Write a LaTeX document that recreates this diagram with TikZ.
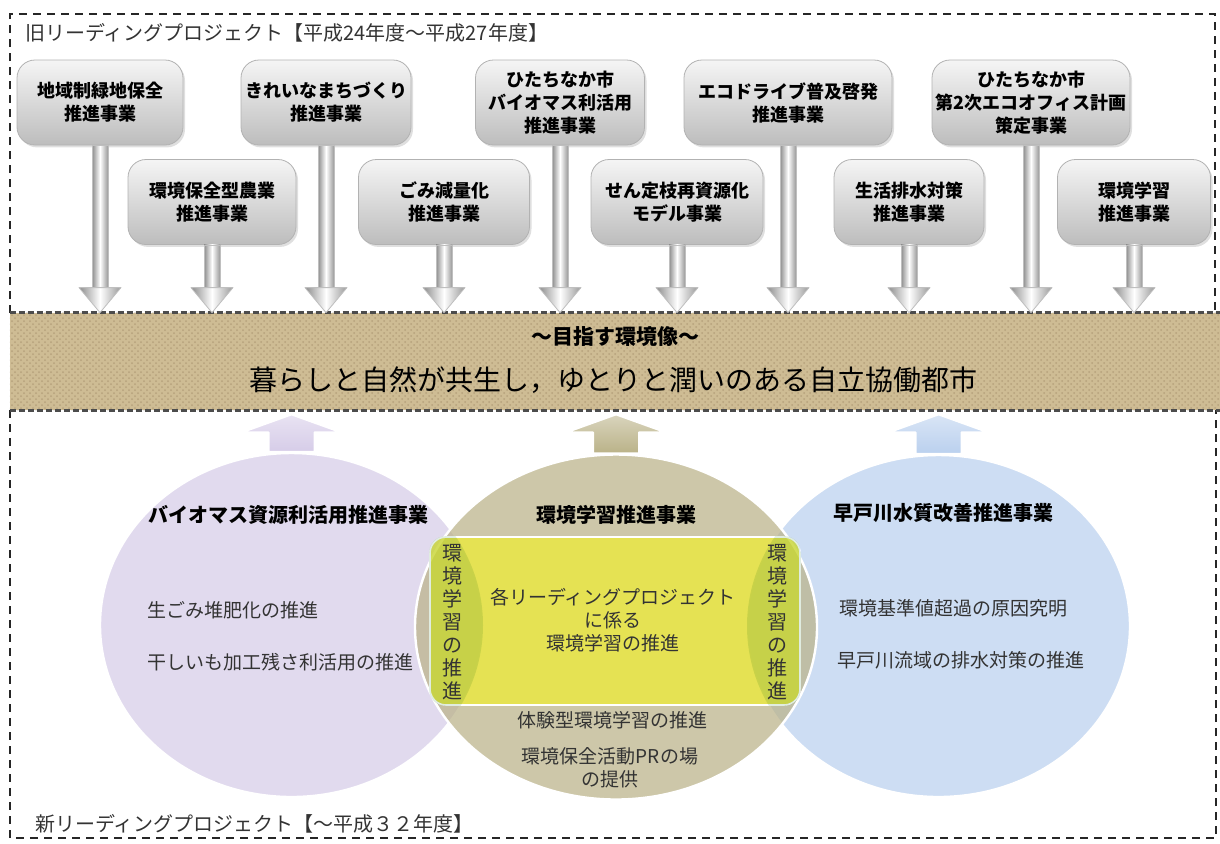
\documentclass[tikz,border=0pt]{standalone}
\usepackage{fontspec}
\setmainfont{Noto Sans CJK JP}
\usetikzlibrary{calc,shadows,shapes.geometric,patterns}
\colorlet{boxedge}{black!30}
\colorlet{inktext}{black!80}
\definecolor{lavender}{RGB}{214,204,232}
\definecolor{khaki}{RGB}{186,178,136}
\definecolor{skyblue}{RGB}{186,208,238}
\definecolor{hemp}{RGB}{206,188,148}
\definecolor{lemon}{RGB}{236,234,60}
\tikzset{
  project/.style={rounded corners=9pt,draw=boxedge,top color=black!4,bottom color=black!26,
    drop shadow={opacity=.25,shadow xshift=1pt,shadow yshift=-1.2pt},
    minimum height=42.5pt,inner sep=1pt,align=center,
    font=\bfseries\fontsize{9}{11.5}\selectfont},
  frame/.style={black!85,line width=.8pt,dash pattern=on 4pt off 3pt},
  bandedge/.style={black!70,line width=1.6pt,dash pattern=on 3pt off 1.5pt},
  theme/.style={ellipse,inner sep=0pt,fill opacity=.72,draw=white,line width=1.2pt},
  head/.style={font=\bfseries\fontsize{10}{12}\selectfont},
  body/.style={font=\fontsize{9.5}{11.5}\selectfont,text=inktext},
  vtext/.style={font=\fontsize{10}{11.5}\selectfont,align=center,text=inktext}
}
% grey arrow from an old project down to the band
\def\leadarrow#1{
  \coordinate (s) at (#1.south);
  \coordinate (t) at (#1.south |- band.north);
  \shade[left color=black!45,right color=black!40,middle color=white,draw=black!25]
    ($(s)+(-8,0)$) rectangle ($(t)+(8,-25)$);
  \shade[left color=black!45,right color=black!40,middle color=white,draw=black!25,line join=round]
    ($(t)+(-21,-25)$) -- (t) -- ($(t)+(21,-25)$) -- cycle;
}
% wide arrow from a new project up to the band
\def\goalarrow#1#2{
  \coordinate (s) at (#1.north);
  \coordinate (t) at (#1.north |- band.south);
  \shade[top color=#2!55,bottom color=#2,draw=white,line width=1pt,line join=round]
    (s) ++ (-23,0) -- ($(t)+(-23,22)$) -- ($(t)+(-50,22)$) -- ($(t)+(0,4)$)
    -- ($(t)+(50,22)$) -- ($(t)+(23,22)$) -- ($(s)+(23,0)$) -- cycle;
}
% darker lens where a side circle runs under the yellow core
\def\lens#1{
  \begin{scope}
    \clip[rounded corners=8pt] (core.south west) rectangle (core.north east);
    \clip (#1.center) ellipse [x radius=191.5,y radius=172];
    \fill[black!60!green,opacity=.12] (core.south west) rectangle (core.north east);
  \end{scope}
}

\begin{document}
\begin{tikzpicture}[x=.5pt,y=-.5pt]
  \useasboundingbox (0,0) rectangle (1220,843);

  % FRAMES
  \draw[frame] (10,313) |- (1215,14) -- (1215,313);
  \draw[frame] (10,410) |- (1216,838) -- (1216,410);
  \node[anchor=west,font=\fontsize{10}{12}\selectfont,text=inktext] (oldtitle) at (18,33)
    {旧リーディングプロジェクト【平成24年度～平成27年度】};
  \node[anchor=west,font=\fontsize{10}{12}\selectfont,text=inktext] (newtitle) at (28,824)
    {新リーディングプロジェクト【～平成３２年度】};

  % BAND
  \node[minimum width=605pt,minimum height=48.5pt,inner sep=0pt,fill=hemp] (band) at (615,361.5) {};
  \fill[pattern=crosshatch dots,pattern color=brown!45!black,opacity=.2]
    (band.south west) rectangle (band.north east);
  \draw[bandedge] (band.north west) -- (band.north east);
  \draw[bandedge] (band.south west) -- (band.south east);
  \node[font=\bfseries\fontsize{10.5}{12}\selectfont] (motto) at (615,337) {～目指す環境像～};
  \node[font=\fontsize{14}{16}\selectfont] (vision) at (613,380)
    {暮らしと自然が共生し，ゆとりと潤いのある自立協働都市};

  % OLD PROJECTS
  \node[project,minimum width=83pt]   (p1) at (100,102.5) {地域制緑地保全\\推進事業};
  \node[project,minimum width=85pt]   (p2) at (326,102.5) {きれいなまちづくり\\推進事業};
  \node[project,minimum width=84.5pt] (p3) at (560,102.5) {ひたちなか市\\バイオマス利活用\\推進事業};
  \node[project,minimum width=104pt]  (p4) at (788,102.5) {エコドライブ普及啓発\\推進事業};
  \node[project,minimum width=99pt]   (p5) at (1031,102.5) {ひたちなか市\\第2次エコオフィス計画\\策定事業};
  \node[project,minimum width=84pt]   (q1) at (212,202) {環境保全型農業\\推進事業};
  \node[project,minimum width=85.5pt] (q2) at (444,202) {ごみ減量化\\推進事業};
  \node[project,minimum width=86pt]   (q3) at (677,202) {せん定枝再資源化\\モデル事業};
  \node[project,minimum width=75pt]   (q4) at (909,202) {生活排水対策\\推進事業};
  \node[project,minimum width=76.5pt] (q5) at (1134,202) {環境学習\\推進事業};
  \leadarrow{p1} \leadarrow{p2} \leadarrow{p3} \leadarrow{p4} \leadarrow{p5}
  \leadarrow{q1} \leadarrow{q2} \leadarrow{q3} \leadarrow{q4} \leadarrow{q5}

  % NEW PROJECTS
  \node[theme,fill=lavender,minimum width=191.5pt,minimum height=172pt] (bio) at (291.5,625) {};
  \node[theme,fill=skyblue,minimum width=191.5pt,minimum height=171pt]  (riv) at (938.5,626) {};
  \node[theme,fill=khaki,minimum width=201pt,minimum height=172.5pt]    (edu) at (616,627) {};
  \goalarrow{bio}{lavender}
  \goalarrow{edu}{khaki}
  \goalarrow{riv}{skyblue}
  \node[rounded corners=8pt,minimum width=185pt,minimum height=84pt,fill=lemon,fill opacity=.78,
    draw=white,line width=.8pt] (core) at (615,621) {};
  \lens{bio}
  \lens{riv}

  % LABELS
  \node[head] (biotitle) at (288,515) {バイオマス資源利活用推進事業};
  \node[head] (edutitle) at (616,515) {環境学習推進事業};
  \node[head] (rivtitle) at (943,513) {早戸川水質改善推進事業};
  \node[body,anchor=west] (bioA) at (140,610) {生ごみ堆肥化の推進};
  \node[body,anchor=west] (bioB) at (140,662) {干しいも加工残さ利活用の推進};
  \node[body,anchor=west] (rivA) at (832,608) {環境基準値超過の原因究明};
  \node[body,anchor=west] (rivB) at (830,660) {早戸川流域の排水対策の推進};
  \node[body,align=center] (educore) at (613,620) {各リーディングプロジェクト\\に係る\\環境学習の推進};
  \node[body] (eduA) at (612,720) {体験型環境学習の推進};
  \node[body,align=center] (eduB) at (610,768) {環境保全活動PRの場\\の提供};
  \node[vtext] (eduL) at (452,622) {環\\境\\学\\習\\の\\推\\進};
  \node[vtext] (eduR) at (777,622) {環\\境\\学\\習\\の\\推\\進};
\end{tikzpicture}
\end{document}
